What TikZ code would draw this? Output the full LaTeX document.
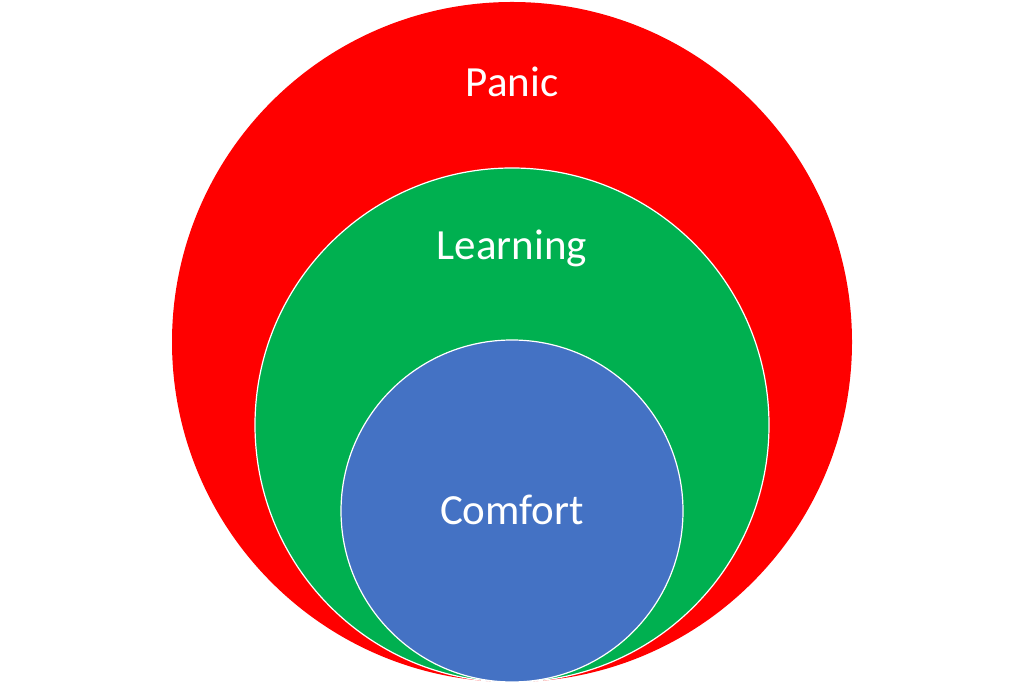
\documentclass[tikz,border=0pt]{standalone}
\usepackage{fontspec}
\setmainfont{Carlito}
\usetikzlibrary{positioning}

\definecolor{panicred}{HTML}{FF0000}
\definecolor{learngreen}{HTML}{00B050}
\definecolor{comfortblue}{HTML}{4472C4}

\begin{document}
\begin{tikzpicture}[x=1pt,y=1pt,
                    zone/.style={circle,inner sep=0pt,outer sep=0pt},
                    zonetext/.style={text=white,anchor=base,inner sep=0pt,
                                     font=\fontsize{43}{51}\selectfont}]
   \useasboundingbox[fill=white] (0,0) rectangle (1024,684);

   \node[zone,fill=panicred,minimum size=680pt]                    (P) at (512,342) {};
   \node[zone,fill=learngreen,draw=white,line width=1.2pt,minimum size=514pt] (L) at (512,259) {};
   \node[zone,fill=comfortblue,draw=white,line width=1.2pt,minimum size=342pt] (C) at (512,173) {};

   \node[zonetext] (Ptext) at (512,587) {Panic};
   \node[zonetext] (Ltext) at (512,424) {Learning};
   \node[zonetext] (Ctext) at (512,159) {Comfort};
\end{tikzpicture}
\end{document}
